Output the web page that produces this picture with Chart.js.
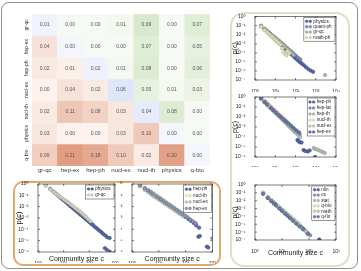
<!DOCTYPE html>
<html>
<head>
<meta charset="utf-8">
<script src="https://cdn.jsdelivr.net/npm/chart.js@4.4.1/dist/chart.umd.min.js"></script>
<style>
  body { margin: 0; width: 361px; height: 271px; background: #fff; position: relative; overflow: hidden; }
  .frame { position: absolute; left: 1px; top: 2px; width: 355px; height: 265px; border: 1px solid #8f8f8f; border-radius: 8px; }
  .obox { position: absolute; left: 13px; top: 181px; width: 204px; height: 81px; border: 2px solid #e3a66b; border-radius: 10px; }
  .gbox { position: absolute; left: 230px; top: 12px; width: 116px; height: 251px; border: 2px solid #d5e4c3; border-radius: 14px; }
  canvas { position: absolute; }
</style>
</head>
<body>
<div class="frame"></div>
<div class="obox"></div>
<div class="gbox"></div>
<canvas id="heat" width="215" height="177" style="left:0;top:0"></canvas>
<canvas id="leftA" width="106" height="85" style="left:14px;top:178px"></canvas>
<canvas id="leftB" width="97" height="85" style="left:120px;top:178px"></canvas>
<canvas id="right1" width="117" height="80" style="left:231px;top:12px"></canvas>
<canvas id="right2" width="117" height="75" style="left:231px;top:92px"></canvas>
<canvas id="right3" width="117" height="77" style="left:231px;top:180px"></canvas>
<script>
// heatmap data
var fields = ['gr-qc', 'hep-ex', 'hep-ph', 'nucl-ex', 'nucl-th', 'physics', 'q-bio'];
var overlap = [
  [0.01, 0.00, 0.00, 0.01, 0.09, 0.00, 0.07],
  [0.04, 0.00, 0.00, 0.00, 0.07, 0.00, 0.05],
  [0.02, 0.01, 0.02, 0.01, 0.08, 0.00, 0.06],
  [0.00, 0.04, 0.02, 0.06, 0.05, 0.01, 0.03],
  [0.02, 0.11, 0.08, 0.03, 0.04, 0.08, 0.00],
  [0.03, 0.00, 0.00, 0.03, 0.10, 0.00, 0.00],
  [0.09, 0.21, 0.18, 0.10, 0.02, 0.20, 0.00]
];

// tick values
var decX3 = [1, 10, 100, 1000];
var decX4 = [1, 10, 100, 1000, 10000];
var decY6 = [1, 1e-1, 1e-2, 1e-3, 1e-4, 1e-5, 1e-6];
var decY7 = [1, 1e-1, 1e-2, 1e-3, 1e-4, 1e-5, 1e-6, 1e-7];

// community size distributions [c, p(c)]
var physicsA = [[2,0.8],[3,0.36],[4,0.21],[5,0.14],[6,0.095],[7,0.073],[8,0.055],[9,0.045],[10,0.036],[12,0.026],[14,0.019],[16,0.015],[18,0.0115],[20,0.0098],[23,0.0073],[26,0.0059],[30,0.0043],[35,0.0034],[40,0.0025],[46,0.0019],[53,0.0015],[60,0.00118],[70,0.00086],[80,0.00068],[92,0.0005],[105,0.00041],[120,0.0003],[140,0.00024],[160,0.00017],[190,0.00013],[220,0.000095],[260,0.00007],[300,0.000055],[350,0.000038],[420,0.000029],[500,0.00002],[620,0.000017],[400,0.0000022],[480,0.0000016],[620,0.0000011]];
var grqcA = [[2,0.7],[3,0.33],[4,0.2],[5,0.14],[6,0.1],[7,0.08],[8,0.064],[10,0.044],[12,0.033],[14,0.026],[16,0.021],[19,0.015],[22,0.012],[26,0.0088],[30,0.0068],[35,0.0052],[40,0.0041],[47,0.003],[55,0.0022],[65,0.0016],[75,0.0012],[90,0.0008],[110,0.00052]];

var hepphB = [[2,0.75],[3,0.39],[4,0.24],[5,0.17],[6,0.12],[8,0.075],[10,0.052],[13,0.034],[16,0.024],[20,0.017],[25,0.012],[32,0.0078],[40,0.0054],[50,0.0038],[63,0.0026],[80,0.0018],[100,0.0012],[130,0.00078],[160,0.00055],[200,0.00036],[250,0.00022],[320,0.00014],[300,0.000022],[340,0.000026],[620,0.000003],[700,0.0000025]];
var nuclthB = [[2,0.9],[3,0.48],[4,0.31],[5,0.22],[6,0.165],[7,0.13],[8,0.105],[10,0.074],[12,0.056],[15,0.039],[18,0.029],[22,0.021],[27,0.0148],[33,0.0105],[40,0.0077],[50,0.0053],[60,0.0039],[75,0.0027],[90,0.002],[110,0.0014]];
var nuclexB = [[2,0.6],[3,0.3],[4,0.19],[5,0.13],[6,0.095],[7,0.075],[9,0.05],[11,0.037],[14,0.025],[17,0.018],[21,0.013],[26,0.0092],[32,0.0065],[40,0.0045],[50,0.0031],[62,0.0022],[80,0.0014]];
var hepexB = [[2,0.8],[3,0.42],[4,0.27],[5,0.19],[6,0.14],[8,0.086],[10,0.06],[12,0.045],[15,0.031],[19,0.021],[24,0.0148],[30,0.0103],[38,0.0071],[48,0.0049],[60,0.0034],[75,0.0024],[95,0.0016],[120,0.0011],[150,0.00075],[190,0.0005],[240,0.00034],[1000,0.000016]];

var physicsR = [[2,0.085],[3,0.037],[4,0.02],[5,0.0125],[6,0.0087],[7,0.0064],[8,0.0049],[10,0.0031],[12,0.0021],[14,0.0015],[17,0.001],[20,0.00072],[24,0.0005],[29,0.00034],[35,0.00023],[42,0.00016],[50,0.000108],[60,0.000075],[72,0.000052],[86,0.000036],[100,0.000026],[120,0.000018],[145,0.000012],[175,0.0000085],[210,0.0000062],[260,0.0000042],[330,0.0000026],[430,0.0000016],[560,0.0000011],[740,0.0000008]];
var quantphR = [[2,0.1],[3,0.045],[4,0.026],[5,0.017],[6,0.012],[8,0.0069],[10,0.0045],[13,0.0028],[16,0.0019],[20,0.0012],[25,0.0008],[32,0.0005],[40,0.00032],[50,0.0002],[63,0.00013],[80,0.000082],[100,0.000052],[130,0.000031],[170,0.000018]];
var grqcR = [[2,0.09],[3,0.04],[4,0.023],[5,0.015],[6,0.011],[7,0.0085],[9,0.0055],[11,0.0038],[14,0.0024],[17,0.0016],[21,0.001],[26,0.00065],[32,0.00042],[40,0.00026],[50,0.00016],[62,0.0001],[80,0.000058],[2900,0.00000035]];
var mathphR = [[2,0.075],[3,0.032],[4,0.018],[5,0.011],[6,0.0075],[7,0.0055],[9,0.0033],[11,0.0022],[14,0.0013],[18,0.0008],[22,0.0003],[26,0.00012],[30,0.00008],[36,0.00005],[40,0.00015],[50,0.00009]];

var hepphR = [[2,0.75],[3,0.33],[4,0.185],[5,0.12],[6,0.083],[8,0.046],[10,0.03],[13,0.018],[16,0.012],[20,0.0077],[25,0.0049],[32,0.003],[40,0.0019],[50,0.0012],[63,0.00075],[80,0.00047],[100,0.0003],[125,0.00005],[140,0.00004],[160,0.00003],[200,0.000028],[250,0.000005],[300,0.000004],[400,0.0000035],[500,0.0000045]];
var heplatR = [[2,0.85],[3,0.38],[4,0.22],[5,0.14],[6,0.097],[8,0.056],[10,0.037],[13,0.022],[16,0.015],[20,0.0098],[25,0.0064],[32,0.004],[40,0.0026],[50,0.0017],[63,0.0011],[80,0.00068],[100,0.00044],[130,0.00027],[160,0.00018]];
var hepthR = [[2,0.68],[3,0.3],[4,0.17],[5,0.11],[6,0.077],[8,0.043],[10,0.028],[13,0.017],[16,0.011],[20,0.0071],[25,0.0045],[32,0.0028],[40,0.0018],[50,0.0011],[63,0.0007],[80,0.00044],[100,0.00028],[130,0.00017],[170,0.0001],[800,0.000008],[1000,0.000006],[1300,0.0000052],[1700,0.000004],[2200,0.0000032],[2800,0.0000025]];
var nuclthR = [[2,0.9],[3,0.42],[4,0.25],[5,0.165],[6,0.115],[8,0.066],[10,0.043],[13,0.027],[17,0.016],[22,0.0101],[28,0.0064],[36,0.004],[45,0.0026],[58,0.0016]];
var nuclexR = [[2,0.62],[3,0.28],[4,0.16],[5,0.105],[7,0.056],[9,0.036],[12,0.021],[15,0.014],[19,0.0092],[24,0.006],[30,0.0039],[38,0.0025],[48,0.0016],[60,0.001],[75,0.00066]];
var hepexR = [[2,0.72],[3,0.32],[4,0.18],[6,0.085],[8,0.048],[11,0.027],[15,0.015],[20,0.0091],[27,0.0054],[35,0.0034],[45,0.0022],[60,0.0013],[80,0.0008],[110,0.00046],[150,0.00028],[900,0.000001]];

var nlinR = [[2,0.1],[3,0.028],[4,0.012],[5,0.006],[6,0.0034],[8,0.0014],[10,0.0007],[13,0.0003],[16,0.00016],[20,0.00008],[25,0.00004],[32,0.000019],[40,0.0000095],[50,0.0000048],[60,0.0000026],[240,0.00000012]];
var csR = [[2,0.08],[3,0.024],[4,0.0098],[5,0.005],[6,0.0028],[7,0.0018],[9,0.00085],[11,0.00046],[14,0.00022],[17,0.00012],[21,0.000065],[26,0.000033],[33,0.000016],[42,0.0000078],[55,0.0000035],[70,0.0000017],[90,0.0000008],[110,0.0000004]];
var statR = [[2,0.09],[3,0.026],[4,0.0105],[5,0.0055],[6,0.0031],[8,0.0013],[10,0.00064],[12,0.00036],[15,0.00019],[19,0.000095],[24,0.000047],[30,0.000024],[38,0.000012],[48,0.000006],[60,0.000003],[75,0.0000015]];
var qbioR = [[2,0.11],[3,0.032],[4,0.013],[5,0.0068],[6,0.0039],[7,0.0025],[9,0.0012],[11,0.00066],[14,0.00033],[18,0.00016],[22,0.000088],[28,0.000044],[35,0.000023],[45,0.000011]];
var mathR = [[2,0.085],[3,0.025],[4,0.01],[5,0.0052],[6,0.003],[8,0.0012],[10,0.0006],[13,0.00027],[16,0.00014],[20,0.00007],[25,0.000036],[32,0.000017],[40,0.0000085],[50,0.0000043],[63,0.0000021],[80,0.000001]];
var qfinR = [[2,0.075],[3,0.022],[4,0.009],[5,0.0045],[6,0.0026],[8,0.001],[10,0.0005],[13,0.00022],[16,0.00012],[20,0.00006],[26,0.000028],[34,0.000012],[45,0.0000055],[60,0.0000025],[90,0.0000006]];

var FONT = '"Liberation Sans", "DejaVu Sans", sans-serif';

// ---------- heatmap ----------
function mix(lo, hi, t) {
  t = Math.max(0, Math.min(1, t));
  return 'rgb(' + lo.map(function (v, i) { return Math.round(v + (hi[i] - v) * t); }).join(',') + ')';
}
function cellColor(r, c, v) {
  if (r === c) return mix([244, 246, 252], [218, 227, 248], v / 0.07);
  if (c > r) return mix([247, 250, 244], [214, 231, 202], v / 0.1);
  return mix([252, 243, 238], [224, 152, 124], v / 0.22);
}

var heatText = {
  id: 'heatText',
  afterDatasetsDraw: function (chart) {
    var ctx = chart.ctx, sx = chart.scales.x, sy = chart.scales.y, a = chart.chartArea;
    ctx.save();
    ctx.textAlign = 'center';
    ctx.textBaseline = 'middle';
    ctx.fillStyle = '#555';
    ctx.font = '5px ' + FONT;
    for (var r = 0; r < fields.length; r++) {
      for (var c = 0; c < fields.length; c++) {
        ctx.fillText(overlap[r][c].toFixed(2), sx.getPixelForValue(c), sy.getPixelForValue(r + 0.5));
      }
    }
    ctx.fillStyle = '#333';
    ctx.font = '6px ' + FONT;
    fields.forEach(function (f, c) {
      ctx.fillText(f, sx.getPixelForValue(c), a.bottom + 4);
    });
    ctx.font = '5px ' + FONT;
    fields.forEach(function (f, r) {
      ctx.save();
      ctx.translate(a.left - 5, sy.getPixelForValue(r + 0.5));
      ctx.rotate(-Math.PI / 2);
      ctx.fillText(f, 0, 0);
      ctx.restore();
    });
    ctx.restore();
  }
};

var heatSets = overlap.map(function (row, r) {
  var cols = row.map(function (v, c) { return cellColor(r, c, v); });
  return {
    data: row.map(function () { return [r, r + 1]; }),
    backgroundColor: cols,
    borderColor: cols,
    borderWidth: 0.5,
    borderSkipped: false,
    barPercentage: 1,
    categoryPercentage: 1,
    grouped: false
  };
});

new Chart(document.getElementById('heat'), {
  type: 'bar',
  data: { labels: fields, datasets: heatSets },
  options: {
    responsive: false,
    animation: false,
    events: [],
    layout: { padding: { left: 32, right: 5, top: 14, bottom: 11 } },
    plugins: { legend: { display: false }, tooltip: { enabled: false } },
    scales: {
      x: { display: false },
      y: { display: false, min: 0, max: 7, reverse: true }
    }
  },
  plugins: [heatText]
});

// ---------- log-log scatter plots ----------
var supMap = { '-': '\u207b', '0': '\u2070', '1': '\u00b9', '2': '\u00b2', '3': '\u00b3', '4': '\u2074', '5': '\u2075', '6': '\u2076', '7': '\u2077', '8': '\u2078', '9': '\u2079' };
function powLabel(v) {
  var e = String(Math.round(Math.log10(v)));
  return '10' + e.split('').map(function (ch) { return supMap[ch]; }).join('');
}

var frameBox = {
  id: 'frameBox',
  afterDatasetsDraw: function (chart) {
    var a = chart.chartArea, ctx = chart.ctx, sx = chart.scales.x, sy = chart.scales.y;
    ctx.save();
    ctx.strokeStyle = '#222';
    ctx.lineWidth = 0.6;
    ctx.strokeRect(a.left, a.top, a.right - a.left, a.bottom - a.top);
    ctx.beginPath();
    sx.ticks.forEach(function (t) {
      var px = sx.getPixelForValue(t.value);
      ctx.moveTo(px, a.bottom); ctx.lineTo(px, a.bottom - 2);
      ctx.moveTo(px, a.top); ctx.lineTo(px, a.top + 2);
    });
    sy.ticks.forEach(function (t) {
      var py = sy.getPixelForValue(t.value);
      ctx.moveTo(a.left, py); ctx.lineTo(a.left + 2, py);
      ctx.moveTo(a.right, py); ctx.lineTo(a.right - 2, py);
    });
    ctx.stroke();
    ctx.restore();
  }
};

var boxLegend = {
  id: 'boxLegend',
  afterDraw: function (chart, args, opts) {
    var ctx = chart.ctx, a = chart.chartArea, sets = chart.data.datasets;
    var lh = opts.lineHeight || 5.6;
    ctx.save();
    ctx.font = '4.6px ' + FONT;
    var tw = 0;
    sets.forEach(function (s) { tw = Math.max(tw, ctx.measureText(s.label).width); });
    var w = tw + 13, h = sets.length * lh + 2;
    var x0 = a.right - w - 1, y0 = a.top + 1;
    ctx.fillStyle = '#fff';
    ctx.fillRect(x0, y0, w, h);
    ctx.strokeStyle = '#333';
    ctx.lineWidth = 0.5;
    ctx.strokeRect(x0, y0, w, h);
    ctx.textBaseline = 'middle';
    sets.forEach(function (s, i) {
      var y = y0 + 1 + lh * (i + 0.5);
      [x0 + 2.8, x0 + 6.4].forEach(function (x) {
        ctx.beginPath();
        ctx.arc(x, y, 1.3, 0, Math.PI * 2);
        ctx.fillStyle = s.backgroundColor;
        ctx.fill();
        ctx.strokeStyle = s.borderColor;
        ctx.lineWidth = 0.5;
        ctx.stroke();
      });
      ctx.fillStyle = '#222';
      ctx.fillText(s.label, x0 + 9.5, y);
    });
    ctx.restore();
  }
};

function logPlot(id, cfg) {
  // later series are drawn on top, so the dark first series stays underneath
  var sets = cfg.series.map(function (s, i) {
    return {
      label: s[0],
      data: s[1].map(function (p) { return { x: p[0], y: p[1] }; }),
      backgroundColor: s[2],
      borderColor: s[3],
      borderWidth: 0.6,
      pointRadius: 1.7,
      order: cfg.series.length - i
    };
  });
  var xt = cfg.xTicks, yt = cfg.yTicks;
  new Chart(document.getElementById(id), {
    type: 'scatter',
    data: { datasets: sets },
    options: {
      responsive: false,
      animation: false,
      events: [],
      layout: { padding: cfg.pad },
      plugins: {
        legend: { display: false },
        tooltip: { enabled: false },
        boxLegend: { lineHeight: cfg.lh }
      },
      scales: {
        x: {
          type: 'logarithmic',
          min: xt[0], max: xt[xt.length - 1],
          afterBuildTicks: function (s) { s.ticks = xt.map(function (v) { return { value: v }; }); },
          afterFit: function (s) { s.height = cfg.xh; },
          grid: { display: false },
          border: { display: false },
          ticks: { autoSkip: false, maxRotation: 0, padding: 1, color: '#222', font: { size: 5, family: FONT }, callback: powLabel },
          title: { display: !!cfg.xTitle, text: 'Community size c', color: '#222', padding: 0, font: { size: 7, family: FONT } }
        },
        y: {
          type: 'logarithmic',
          min: yt[yt.length - 1], max: yt[0],
          afterBuildTicks: function (s) { s.ticks = yt.map(function (v) { return { value: v }; }); },
          afterFit: function (s) { s.width = cfg.yw; },
          grid: { display: false },
          border: { display: false },
          ticks: { autoSkip: false, padding: 1.5, color: '#222', font: { size: 5, family: FONT }, callback: powLabel },
          title: { display: !!cfg.yTitle, text: 'p(c)', color: '#111', padding: 0, font: { size: cfg.yTitleSize || 7, family: FONT } }
        }
      }
    },
    plugins: [frameBox, boxLegend]
  });
}

var DARK = ['#5a67a0', '#3f4b86'];

logPlot('leftA', {
  xTicks: decX3, yTicks: decY6, yw: 24, xh: 11, lh: 6,
  pad: { top: 6, right: 5, left: 0, bottom: 0 },
  xTitle: true, yTitle: true, yTitleSize: 7.5,
  series: [
    ['physics', physicsA, DARK[0], DARK[1]],
    ['gr-qc', grqcA, '#d7dbc9', '#9fa88a']
  ]
});

logPlot('leftB', {
  xTicks: decX3, yTicks: decY6, yw: 12, xh: 11, lh: 6.4,
  pad: { top: 6, right: 4, left: 0, bottom: 0 },
  xTitle: true, yTitle: false,
  series: [
    ['hep-ph', hepphB, DARK[0], DARK[1]],
    ['nucl-th', nuclthB, '#eeeed2', '#c5c596'],
    ['nucl-ex', nuclexB, '#c5ceb4', '#96a383'],
    ['hep-ex', hepexB, '#8d98b8', '#5f6b93']
  ]
});

logPlot('right1', {
  xTicks: decX4, yTicks: decY7, yw: 24, xh: 12, lh: 5.4,
  pad: { top: 3, right: 12, left: 0, bottom: 0 },
  xTitle: false, yTitle: true,
  series: [
    ['physics', physicsR, DARK[0], DARK[1]],
    ['quant-ph', quantphR, '#7f8bb0', '#58648f'],
    ['gr-qc', grqcR, '#b4b9b6', '#8a908c'],
    ['math-ph', mathphR, '#e1e2bd', '#b6b888']
  ]
});

logPlot('right2', {
  xTicks: decX4, yTicks: decY6, yw: 24, xh: 10, lh: 6,
  pad: { top: 5, right: 12, left: 0, bottom: 0 },
  xTitle: false, yTitle: true,
  series: [
    ['hep-ph', hepphR, DARK[0], DARK[1]],
    ['hep-lat', heplatR, '#8a94b2', '#5f6a90'],
    ['hep-th', hepthR, '#b8bcb8', '#8c918c'],
    ['nucl-th', nuclthR, '#ebebcd', '#c3c395'],
    ['nucl-ex', nuclexR, '#ccd4b8', '#9aa688'],
    ['hep-ex', hepexR, '#6a77a6', '#465485']
  ]
});

logPlot('right3', {
  xTicks: decX3, yTicks: decY7, yw: 24, xh: 17, lh: 5.4,
  pad: { top: 5, right: 12, left: 0, bottom: 0 },
  xTitle: true, yTitle: true,
  series: [
    ['nlin', nlinR, '#55629a', '#39457c'],
    ['cs', csR, '#8f99b5', '#646f93'],
    ['stat', statR, '#b9bdb8', '#8d928c'],
    ['q-bio', qbioR, '#e8e8c6', '#bdbd8f'],
    ['math', mathR, '#c9d1b2', '#99a685'],
    ['q-fin', qfinR, '#6f7cab', '#4a5788']
  ]
});
</script>
</body>
</html>
